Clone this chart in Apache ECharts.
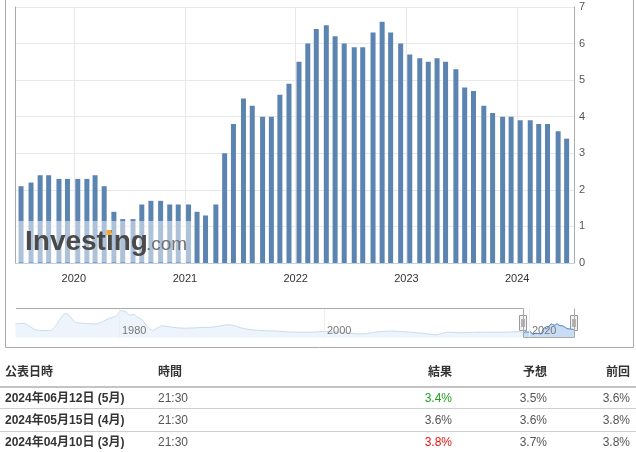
<!DOCTYPE html>
<html><head><meta charset="utf-8">
<script src="https://cdn.jsdelivr.net/npm/echarts/dist/echarts.min.js"></script>
<style>
html,body{margin:0;padding:0;background:#fff;}
#wrap{position:relative;width:636px;height:452px;overflow:hidden;font-family:Arial,"Liberation Sans","Noto Sans CJK JP",sans-serif;}
#chart{position:absolute;left:0;top:0;width:636px;height:452px;}
#tbl{position:absolute;left:0;top:352px;width:636px;height:100px;}
.cell{position:absolute;white-space:nowrap;font-size:12px;line-height:16px;color:#555;}
.hd{font-weight:bold;color:#333;}
.dt{font-weight:bold;color:#333;}
.ln{position:absolute;left:0;width:636px;}
</style></head><body>
<div id="wrap"><div id="chart"></div><div id="tbl"></div></div>
<script>
// ---- main chart data (release dates, core CPI y/y %) ----
const releaseDates = [
 '2019-07-11','2019-08-13','2019-09-12','2019-10-10','2019-11-13','2019-12-11',
 '2020-01-14','2020-02-13','2020-03-11','2020-04-10','2020-05-12','2020-06-10','2020-07-14','2020-08-12','2020-09-11','2020-10-13','2020-11-12','2020-12-10',
 '2021-01-13','2021-02-10','2021-03-10','2021-04-13','2021-05-12','2021-06-10','2021-07-13','2021-08-11','2021-09-14','2021-10-13','2021-11-10','2021-12-10',
 '2022-01-12','2022-02-10','2022-03-10','2022-04-12','2022-05-11','2022-06-10','2022-07-13','2022-08-10','2022-09-13','2022-10-13','2022-11-10','2022-12-13',
 '2023-01-12','2023-02-14','2023-03-14','2023-04-12','2023-05-10','2023-06-13','2023-07-12','2023-08-10','2023-09-13','2023-10-12','2023-11-14','2023-12-12',
 '2024-01-11','2024-02-13','2024-03-12','2024-04-10','2024-05-15','2024-06-12'];
const releaseValues = [
 2.1,2.2,2.4,2.4,2.3,2.3,
 2.3,2.3,2.4,2.1,1.4,1.2,1.2,1.6,1.7,1.7,1.6,1.6,
 1.6,1.4,1.3,1.6,3.0,3.8,4.5,4.3,4.0,4.0,4.6,4.9,
 5.5,6.0,6.4,6.5,6.2,6.0,5.9,5.9,6.3,6.6,6.3,6.0,
 5.7,5.6,5.5,5.6,5.5,5.3,4.8,4.7,4.3,4.1,4.0,4.0,
 3.9,3.9,3.8,3.8,3.6,3.4];
const yTicks = [0,1,2,3,4,5,6,7];
const mainMin = '2019-07-01', mainMax = '2024-06-28';

// ---- navigator history (read from the small overview) ----
const navDates = ['1969-11','1970-08','1971-03','1971-12','1973-03','1973-09','1974-04','1974-10','1975-03','1975-09','1976-09','1977-09','1978-05','1979-01','1979-09','1980-03','1980-09','1981-01','1981-06','1981-10','1982-04','1982-10','1983-04','1983-09','1984-03','1985-03','1986-06','1987-10','1989-01','1990-10','1992-03','1993-12','1995-06','1997-01','1998-10','2000-01','2002-01','2003-04','2003-12','2004-12','2006-08','2008-06','2009-09','2011-01','2012-01','2013-08','2015-06','2017-06','2019-02'];
const navValues = [6.5,6.85,5.5,3.3,3.1,4.8,9.4,11.9,10.6,7.4,6.8,6.5,7.7,9.4,10.6,13.5,12.6,11.1,11.4,10.2,8.5,5.1,3.1,4.3,5.5,4.8,4.3,4.6,4.8,6.1,4.1,3.1,2.8,2.25,2.25,2.6,2.05,1.4,1.4,2.25,2.8,2.25,1.7,0.9,2.25,2.0,2.25,2.25,2.5];
const navTickYears = ['1980','2000','2020'];
const navMin = '1969-11-20', navMax = '2024-06-12';

// ---- table data ----
const tblHeaders = ['公表日時','時間','結果','予想','前回'];
const tblDates = ['2024年06月12日 (5月)','2024年05月15日 (4月)','2024年04月10日 (3月)'];
const tblTimes = ['21:30','21:30','21:30'];
const tblActual = ['3.4%','3.6%','3.8%'];
const tblActualColor = ['#22a022','#555555','#ee1111'];
const tblForecast = ['3.5%','3.6%','3.7%'];
const tblPrevious = ['3.6%','3.8%','3.8%'];

const mainData = releaseDates.map((d,i)=>[d, releaseValues[i]]);
const navAll = navDates.map((d,i)=>[d, navValues[i]]).concat(mainData);
const YEAR = 365*86400000;
const FONT = 'Arial, "Liberation Sans", sans-serif';

const chart = echarts.init(document.getElementById('chart'));
chart.setOption({
  animation:false,
  grid:[
    {left:15.5, right:62, top:7, height:256},
    {left:16, right:62, top:308.5, height:29}
  ],
  xAxis:[
    {type:'time', gridIndex:0, min:mainMin, max:mainMax, minInterval:YEAR, maxInterval:YEAR,
     axisLine:{show:true, lineStyle:{color:'#c0d0e0'}}, axisTick:{show:false},
     splitLine:{show:true, lineStyle:{color:'#e8e8e8'}},
     axisLabel:{color:'#333', fontSize:11, fontFamily:FONT, margin:10,
       formatter:v=>{const d=new Date(v);return (d.getMonth()===0&&d.getDate()===1)?String(d.getFullYear()):'';}}},
    {type:'time', gridIndex:1, min:navMin, max:navMax,
     axisLine:{show:false}, axisTick:{show:false}, splitLine:{show:false}, axisLabel:{show:false}}
  ],
  yAxis:[
    {type:'value', gridIndex:0, position:'right', min:yTicks[0], max:yTicks[yTicks.length-1], interval:1,
     axisLine:{show:true, lineStyle:{color:'#aaa'}}, axisTick:{show:false},
     splitLine:{show:true, lineStyle:{color:'#e8e8e8'}},
     axisLabel:{color:'#555', fontSize:11, fontFamily:FONT, margin:5}},
    {type:'value', gridIndex:0, position:'left', min:0, max:7, interval:1,
     axisLine:{show:true, lineStyle:{color:'#aaa'}}, axisTick:{show:false}, axisLabel:{show:false}, splitLine:{show:false}},
    {type:'value', gridIndex:1, min:-0.5, max:14.5, show:false}
  ],
  series:[
    {type:'bar', xAxisIndex:0, yAxisIndex:0, data:mainData, barWidth:5,
     itemStyle:{color:'#5b84b1'}},
    {type:'line', xAxisIndex:1, yAxisIndex:2, data:navAll, symbol:'none', smooth:0.3,
     lineStyle:{color:'#c8dbef', width:1}, areaStyle:{color:'#eef4fb', opacity:1, origin:'start'}},
    {type:'line', xAxisIndex:1, yAxisIndex:2, data:mainData, symbol:'none', smooth:0.3,
     lineStyle:{color:'#3f7fc6', width:1}, areaStyle:{color:'#c8ddf4', opacity:1, origin:'start'}}
  ]
});

const toNavX = d => chart.convertToPixel({xAxisIndex:1}, new Date(d).getTime());
const selL = toNavX(mainMin);
const selR = toNavX(navMax);
const navTop = 308.5, navBot = 337.5;
function handle(x){
  const c = Math.round(x);
  return {type:'group', z:120, children:[
    {type:'rect', shape:{x:c-3.5, y:315.5, width:7, height:15}, style:{fill:'#f2f2f2', stroke:'#999', lineWidth:1}},
    {type:'line', shape:{x1:c-1, y1:319, x2:c-1, y2:327}, style:{stroke:'#777', lineWidth:1}},
    {type:'line', shape:{x1:c+1, y1:319, x2:c+1, y2:327}, style:{stroke:'#777', lineWidth:1}}
  ]};
}
const navTickGraphics = [];
navTickYears.forEach(y=>{
  const x = Math.round(toNavX(y + '-01-01')) + 0.5;
  navTickGraphics.push({type:'line', z:5, shape:{x1:x, y1:navTop, x2:x, y2:navBot}, style:{stroke:'#eeeeee', lineWidth:1}});
  navTickGraphics.push({type:'text', z:105, style:{text:y, x:x+2.5, y:330.5, font:'11px Arial, "Liberation Sans", sans-serif', fill:'#777', textVerticalAlign:'middle'}});
});
chart.setOption({graphic:[
  {type:'polyline', z:100, shape:{points:[[5.5,0],[5.5,347.5],[633.5,347.5],[633.5,0]]}, style:{stroke:'#aaa', fill:null, lineWidth:1}},
  {type:'polyline', z:110, shape:{points:[[16,navTop],[Math.round(selL)+0.5,navTop],[Math.round(selL)+0.5,navBot],[Math.round(selR)+0.5,navBot],[Math.round(selR)+0.5,navTop]]}, style:{stroke:'#aaa', fill:null, lineWidth:1}},
  handle(selL), handle(selR),
  {type:'rect', z:100, shape:{x:16, y:221, width:177, height:41.5}, style:{fill:'rgba(255,255,255,0.5)'}},
  {type:'text', z:101, style:{text:'Investing', x:25, y:242, font:'bold 28px Arial, "Liberation Sans", sans-serif', fill:'#4a4a4a', textVerticalAlign:'middle'}},
  {type:'text', z:101, style:{text:'.com', x:146, y:245, font:'19px Arial, "Liberation Sans", sans-serif', fill:'#707070', textVerticalAlign:'middle'}},
  {type:'rect', z:102, shape:{x:106.5, y:230, width:5, height:5}, style:{fill:'#f5a833'}}
].concat(navTickGraphics)});

// ---- table ----
const tbl = document.getElementById('tbl');
function cell(text, cls, top, left, right, color){
  const d = document.createElement('div');
  d.className = 'cell ' + (cls||'');
  d.textContent = text;
  d.style.top = top + 'px';
  if (left !== null) d.style.left = left + 'px';
  if (right !== null) d.style.right = right + 'px';
  if (color) d.style.color = color;
  tbl.appendChild(d);
}
const colLeft = [5,158,null,null,null];
const colRight = [null,null,184,89,6];
tblHeaders.forEach((h,i)=>cell(h,'hd',12,colLeft[i],colRight[i]));
const rowTops = [37.7,60,82.3];
tblDates.forEach((d,r)=>{
  cell(d,'dt',rowTops[r],5,null);
  cell(tblTimes[r],'',rowTops[r],158,null);
  cell(tblActual[r],'',rowTops[r],null,184,tblActualColor[r]);
  cell(tblForecast[r],'',rowTops[r],null,89);
  cell(tblPrevious[r],'',rowTops[r],null,6);
});
[[33.5,2,'#c4c4c4'],[56,1,'#cfcfcf'],[78.5,1,'#cfcfcf']].forEach(([t,h,c])=>{
  const l=document.createElement('div'); l.className='ln'; l.style.top=t+'px'; l.style.height=h+'px'; l.style.background=c; tbl.appendChild(l);
});
</script>
</body></html>
